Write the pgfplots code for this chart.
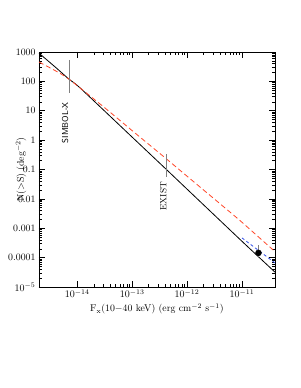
\documentclass[border=0pt]{standalone}
\usepackage{pgfplots}
\pgfplotsset{compat=1.18}
\definecolor{redd}{RGB}{255,70,40}
\definecolor{bluee}{RGB}{50,80,230}
\begin{document}
\begin{tikzpicture}[x=1pt,y=1pt]
\path[use as bounding box] (0,0) rectangle (300,388);
\begin{axis}[
  at={(39pt,101pt)}, anchor=south west,
  width=236pt, height=235pt, scale only axis,
  xmode=log, ymode=log,
  xmin=2e-15, xmax=4e-11, ymin=1e-5, ymax=1000,
  xtick={1e-14,1e-13,1e-12,1e-11},
  ytick={1e-5,1e-4,1e-3,1e-2,1e-1,1,10,100,1000},
  yticklabels={$10^{-5}$,0.0001,0.001,0.01,0.1,1,10,100,1000},
  tick align=inside,
  major tick length=6pt, minor tick length=3pt,
  every tick/.style={black, line width=0.5pt},
  axis line style={line width=0.8pt},
  font=\fontsize{9.8}{11}\selectfont,
  xticklabel style={yshift=1pt},
  xlabel={F$_{\mathrm{x}}$(10$-$40 keV) (erg cm$^{-2}$ s$^{-1}$)},
  ylabel={N($>$S) (deg$^{-2}$)},
  every axis x label/.style={at={(axis description cs:0.5,-0.093)}, anchor=center},
  every axis y label/.style={at={(axis description cs:-0.076,0.5)}, anchor=center, rotate=90},
  clip=true,
]
% black solid
\addplot[black, line width=0.8pt, smooth, tension=0.3] coordinates {
 (2e-15,912) (4e-15,302) (7e-15,120) (1.1e-14,62) (1e-13,1.26) (4.2e-13,0.1) (1e-12,0.0214) (1e-11,3.6e-4) (4e-11,3.2e-5)};
% red dashed
\addplot[redd, line width=0.8pt, dash pattern=on 5pt off 3pt, smooth, tension=0.3] coordinates {
 (2e-15,457) (4e-15,229) (7e-15,120) (3.16e-14,12.6) (1.12e-13,1.76) (4.2e-13,0.23) (1e-12,0.059) (6e-12,3.6e-3) (1e-11,1.6e-3) (4e-11,1.6e-4)};
% blue dashed
\addplot[bluee, line width=0.8pt, dash pattern=on 3pt off 2.5pt] coordinates {
 (1e-11,4.7e-4) (4e-11,6.6e-5)};
% annotations
\addplot[gray, line width=0.6pt] coordinates {(7e-15,535) (7e-15,41)};
\addplot[gray, line width=0.6pt] coordinates {(4.2e-13,0.34) (4.2e-13,0.056)};
\node[rotate=90, anchor=east, inner sep=0pt, font=\sffamily\fontsize{8.6}{9}\selectfont] at (axis cs:6e-15,20) {SIMBOL-X};
\node[rotate=90, anchor=east, inner sep=0pt, font=\fontsize{9}{10}\selectfont] at (axis cs:3.7e-13,0.038) {EXIST};
% data point
\addplot[gray, line width=0.6pt] coordinates {(2e-11,1.07e-4) (2e-11,2.75e-4)};
\addplot[only marks, mark=*, mark size=3pt, black] coordinates {(2e-11,1.45e-4)};
\end{axis}
\end{tikzpicture}
\end{document}
